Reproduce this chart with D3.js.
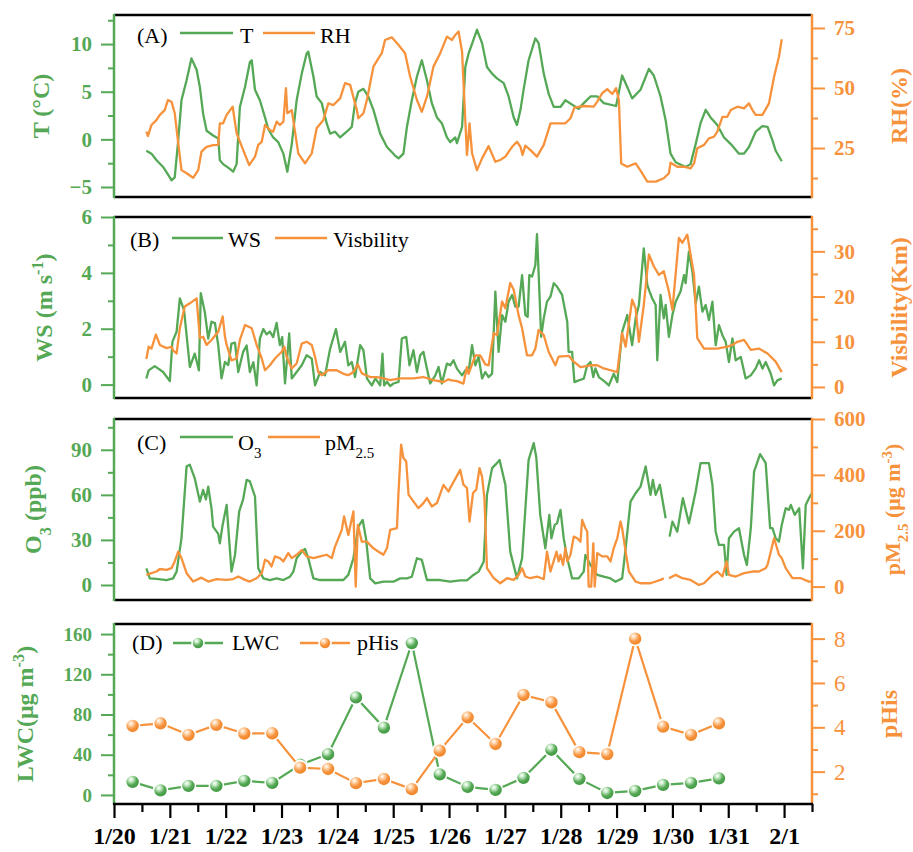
<!DOCTYPE html>
<html>
<head>
<meta charset="utf-8">
<script src="https://cdn.jsdelivr.net/npm/d3@7"></script>
<style>
  body { margin: 0; background: #fff; }
  svg text { font-family: "Liberation Serif", "Times New Roman", serif; }
</style>
</head>
<body>
<script>
// x values are hours after 1/20 00:00
const dateLabels = ["1/20","1/21","1/22","1/23","1/24","1/25","1/26","1/27","1/28","1/29","1/30","1/31","2/1"];

const tempSeries = [[13.9,-1.2],[16.1,-1.5],[18.3,-2.2],[21.1,-2.9],[24.0,-4.0],[24.7,-4.3],[26.1,-4.0],[27.6,-0.1],[29.0,4.1],[31.2,6.2],[33.3,8.5],[35.5,7.3],[36.9,5.5],[38.3,2.7],[39.8,0.9],[42.6,0.4],[44.8,0.1],[45.5,-2.2],[46.9,-2.6],[49.8,-3.1],[51.2,-3.4],[52.7,-2.6],[54.1,3.4],[56.3,5.5],[58.4,8.1],[59.2,8.3],[60.6,5.2],[62.7,4.1],[64.9,2.3],[66.3,1.1],[68.4,0.2],[70.6,-0.3],[72.8,-1.5],[74.5,-3.4],[76.4,-0.5],[78.5,4.1],[80.7,6.9],[82.8,9.0],[83.5,9.2],[85.7,6.6],[87.1,4.5],[89.3,3.8],[91.4,1.7],[92.9,0.6],[95.0,0.8],[97.2,0.2],[100.0,0.8],[102.2,1.3],[103.6,3.8],[105.0,5.0],[107.2,5.3],[109.3,4.5],[111.5,3.1],[114.4,0.6],[117.3,-0.8],[120.8,-1.7],[122.3,-2.0],[124.4,-1.5],[125.9,1.3],[128.0,4.1],[130.2,6.6],[132.3,8.3],[134.5,6.2],[136.6,3.8],[138.8,2.3],[140.9,1.7],[143.1,0.2],[144.5,-0.3],[146.7,0.2],[147.4,-0.4],[149.6,1.3],[151.0,7.6],[152.4,9.0],[156.0,11.5],[158.2,10.1],[160.3,7.6],[162.5,6.9],[164.6,6.4],[167.5,5.9],[169.6,4.5],[171.8,2.3],[173.2,1.5],[174.7,3.1],[176.1,5.3],[178.2,8.3],[181.1,10.6],[182.5,10.1],[184.7,6.9],[186.8,4.8],[189.0,3.4],[191.9,3.4],[194.0,4.1],[199.7,3.2],[201.9,3.8],[204.8,4.5],[207.7,4.5],[210.5,3.8],[215.8,3.5],[218.4,6.7],[220.6,5.5],[222.7,4.3],[226.3,5.2],[229.9,7.4],[232.0,6.7],[234.9,4.5],[237.1,2.0],[239.2,-1.5],[241.4,-2.4],[245.7,-2.9],[247.8,-2.6],[250.0,-0.5],[252.1,1.7],[254.3,3.1],[256.4,2.3],[259.3,1.5],[262.2,0.2],[265.1,-0.5],[268.6,-1.5],[270.8,-1.5],[272.9,-0.8],[275.8,0.8],[278.7,1.4],[280.9,1.3],[283.0,-0.1],[284.4,-1.2],[287.0,-2.3]];

const rhSeries = [[13.9,31.8],[14.6,30],[16.1,34.6],[18.3,36.7],[19.7,38.8],[21.8,40.8],[23.2,45],[24.7,44.3],[26.1,39.5],[27.6,27],[29.0,15.8],[31.2,14.5],[34.0,12.6],[36.2,15.8],[37.6,23.5],[39.8,25.5],[42.6,26.2],[44.8,26.3],[45.5,35.3],[46.9,35.3],[48.4,38.8],[51.0,42.2],[52.7,31.1],[55.5,24.2],[58.1,17.9],[60.6,21.4],[62.0,26.3],[63.5,27.6],[64.9,34.6],[67.0,32.5],[68.4,31.8],[69.9,36],[71.3,34.6],[72.8,36],[73.9,49.9],[74.5,39.5],[76.4,40.8],[79.2,22.8],[82.1,18.6],[85.0,22.8],[87.1,33.2],[90.0,36.7],[92.1,43.6],[94.3,42.9],[97.2,45.7],[99.3,52],[101.5,51.3],[103.6,43.6],[104.4,40.8],[105.0,37.4],[107.2,39.5],[108.7,45],[111.5,58.9],[113.7,62.4],[115.1,64.5],[116.5,70],[119.4,71.1],[122.3,67.9],[125.1,64.5],[127.3,54.7],[130.2,45],[132.3,40.1],[134.5,46.4],[137.3,58.9],[140.2,64.5],[143.1,71.4],[145.3,70],[146.7,72.1],[148.1,73.5],[149.6,65.1],[151.7,22.1],[152.8,35.3],[153.9,22.8],[156.0,15.8],[158.2,20.7],[161.0,25.8],[163.9,19.3],[166.0,20],[168.2,21.4],[171.1,25.5],[173.2,27.6],[174.7,25.5],[175.6,22.1],[176.8,26],[178.9,24.2],[181.8,21.4],[184.7,26.3],[187.6,35.3],[194.0,35.3],[196.2,37.4],[197.9,41.8],[201.9,42.5],[206.2,42.2],[207.7,44.3],[209.8,47.8],[212.0,49.5],[214.2,47.5],[215.8,49.9],[217.0,45],[218.0,18.6],[220.6,17.2],[224.2,18.6],[227.0,14.5],[229.2,11],[232.8,11],[236.3,12.4],[238.5,14.5],[239.2,18.9],[242.1,17.2],[245.0,17.2],[247.8,16.5],[249.3,18.6],[250.7,24.9],[253.6,26.3],[255.7,29],[257.9,29.7],[259.3,31.8],[261.5,38],[263.6,38],[265.1,40.8],[268.0,42.2],[270.8,41.5],[272.9,43.6],[274.4,40.8],[275.8,38.8],[278.7,38.8],[281.5,43.6],[283.7,54.7],[285.8,63],[287.0,70.3]];

const wsSeries = [[13.9,0.22],[14.9,0.51],[17.5,0.66],[21.1,0.45],[24.0,0.13],[25.1,1.53],[26.9,1.89],[28.3,3.09],[30.1,2.67],[32.6,0.63],[34.7,1.11],[36.5,0.51],[37.3,3.27],[39.0,2.61],[40.5,1.65],[41.9,2.25],[43.4,2.2],[44.8,1.41],[46.2,0.22],[47.7,0.81],[49.1,0.7],[50.5,1.47],[52.0,1.5],[53.4,0.45],[55.5,1.17],[57.0,1.4],[58.4,0.45],[59.9,0.8],[61.3,-0.03],[62.7,1.65],[64.2,1.99],[65.6,1.8],[67.0,1.9],[68.4,1.7],[69.9,2.21],[71.3,1.41],[72.3,1.7],[73.5,0.04],[75.3,1.83],[76.4,0.22],[78.5,0.45],[80.7,0.69],[82.8,1.05],[85.0,0.93],[86.4,-0.03],[88.6,0.45],[90.7,0.33],[92.9,1.29],[95.4,1.99],[97.2,1.17],[99.3,1.53],[100.7,0.69],[102.2,0.81],[103.6,0.27],[105.8,1.41],[107.2,1.23],[108.7,0.22],[110.8,-0.03],[112.3,0.22],[114.4,-0.03],[115.4,1.11],[116.1,-0.03],[117.3,0.1],[118.7,-0.05],[120.1,0.04],[122.3,0.1],[123.7,1.65],[125.6,1.71],[127.0,0.69],[128.7,1.23],[130.2,0.45],[131.6,1.05],[133.0,1.17],[134.5,0.57],[135.9,0.04],[138.1,0.33],[139.5,0.63],[140.9,0.04],[143.1,0.75],[144.5,0.69],[145.9,0.87],[147.4,0.57],[149.6,0.33],[151.0,0.51],[152.4,0.45],[153.9,1.41],[155.3,0.69],[156.7,1.0],[158.2,0.22],[159.6,0.45],[161.0,0.27],[162.5,0.39],[163.9,3.33],[165.3,1.17],[166.8,2.49],[168.2,2.25],[169.6,2.97],[171.1,3.21],[172.5,2.79],[173.9,2.79],[175.4,3.92],[176.8,2.49],[177.8,2.43],[178.5,3.92],[179.7,3.87],[181.1,4.28],[181.8,5.39],[182.5,4.0],[183.6,1.71],[184.7,2.37],[186.1,2.97],[187.6,3.15],[189.0,3.63],[190.4,3.51],[192.6,3.21],[194.8,2.25],[195.4,1.17],[196.9,1.17],[197.9,0.09],[199.7,0.15],[201.9,0.21],[203.4,0.69],[204.8,0.81],[206.0,0.27],[206.9,0.58],[208.4,0.27],[211.2,0.09],[212.7,-0.03],[214.8,0.39],[216.3,0.09],[218.4,1.89],[220.6,2.49],[222.7,1.41],[224.2,2.37],[225.6,2.85],[227.7,4.88],[229.2,3.57],[230.2,3.33],[231.3,3.09],[232.8,2.85],[233.5,0.87],[234.9,3.21],[236.3,2.37],[237.1,2.85],[238.5,1.71],[240.0,2.49],[241.4,2.97],[243.5,3.33],[245.0,3.92],[245.7,3.63],[247.1,4.76],[248.6,4.04],[250.0,2.91],[251.4,3.51],[252.9,2.61],[254.3,2.85],[255.7,2.31],[257.2,2.97],[258.6,1.41],[260.0,2.13],[261.5,1.77],[262.9,1.53],[264.3,0.81],[265.8,1.65],[267.2,0.87],[269.4,0.99],[271.5,0.22],[273.7,0.33],[275.8,0.58],[277.3,0.87],[278.7,0.57],[280.1,0.81],[282.3,0.39],[283.7,-0.03],[285.1,0.15],[287.0,0.22]];

const visSeries = [[13.9,6.2],[14.9,8.9],[16.1,8.5],[18.0,11.6],[19.7,9.3],[22.6,8.6],[24.7,8.9],[25.4,8.1],[26.9,7.4],[28.3,13],[30.4,17.8],[32.6,18.5],[35.5,19.6],[36.9,10.8],[38.3,11.1],[39.8,9.3],[41.9,10.4],[44.8,12.2],[46.7,15.6],[47.7,11.1],[48.4,9.3],[50.5,5.9],[52.7,6.3],[54.1,10.4],[56.3,13.7],[59.2,13],[61.3,9.3],[63.5,6.3],[64.9,3.7],[67.0,4.8],[69.2,6.3],[72.1,7.8],[73.2,8.9],[74.2,6.7],[76.4,4.1],[78.5,5.2],[80.7,9.6],[82.8,10],[85.0,9.3],[86.4,6.7],[87.8,3.3],[89.3,2.6],[92.1,3.7],[95.7,3.7],[98.6,2.9],[100.7,2.6],[102.9,3.3],[104.8,5],[106.5,3],[110.1,2.2],[113.0,2.2],[115.8,1.9],[118.7,1.5],[123.0,1.9],[128.7,1.9],[133.0,2.2],[137.3,1.5],[141.6,1.1],[143.8,1.7],[144.5,1.5],[147.4,1.3],[150.2,0.75],[151.7,4.4],[152.4,2.9],[155.3,7],[157.4,7],[159.6,5],[161.0,4.8],[163.2,11.9],[164.6,11.5],[166.8,18.9],[168.2,17.4],[170.3,23],[171.8,21.5],[173.9,15.9],[175.4,13],[177.5,7],[179.7,7],[181.1,8.5],[182.5,12.6],[184.7,11.5],[186.8,7.8],[189.7,4.8],[191.1,6.7],[195.4,6.9],[197.6,5.6],[200.5,4.4],[204.8,4.8],[207.7,4.8],[210.5,4.1],[213.4,3.7],[216.3,3.3],[218.4,11.9],[219.9,8.9],[222.7,19.3],[224.2,17.4],[225.6,10],[227.7,18.1],[229.9,29.3],[232.0,26.7],[234.2,24.8],[236.3,25.6],[238.5,21.1],[240.0,17],[242.8,33],[244.3,31.9],[246.4,33.7],[247.8,29.3],[249.3,24.8],[250.7,10.8],[253.6,8.5],[259.3,8.5],[263.6,8.9],[265.8,9.3],[267.9,10],[270.8,10.4],[273.7,8.2],[277.2,8.5],[280.9,7.4],[284.4,5.6],[287.0,3.3]];

const o3Series = [[13.9,11.1],[15.4,4.4],[18.3,4],[22.6,3.3],[25.4,4.4],[26.9,8.9],[29.0,31],[31.2,79],[32.6,80],[34.7,71],[36.9,55.5],[38.3,63.3],[39.5,57],[40.5,65.5],[41.9,51],[42.6,38.9],[44.8,34],[45.5,27.8],[46.7,40],[48.4,53.3],[50.5,8.9],[52.0,20],[53.8,48.9],[55.5,57],[57.0,70],[58.4,69],[60.6,58.9],[62.0,11.1],[64.2,4.4],[67.0,3.3],[69.9,4.4],[72.8,3.3],[75.6,5.5],[77.1,8.9],[78.5,17.8],[80.7,22.2],[82.1,24],[83.5,17.8],[85.7,4.4],[88.6,3.3],[92.9,3.3],[98.6,3.3],[100.7,6.7],[102.9,17.8],[105.0,38.9],[106.9,43.3],[108.3,31],[110.1,4.4],[112.3,1.1],[115.8,2.2],[120.1,2.2],[123.0,4.4],[125.9,4.4],[128.0,5.5],[130.2,17.8],[132.3,16.7],[134.5,3.3],[140.2,3.3],[144.5,2.2],[148.8,3],[151.7,3],[154.5,6.7],[156.7,8.9],[158.9,15.5],[160.3,60],[162.5,77.8],[164.6,81.1],[165.7,83.3],[168.2,66.7],[170.3,22.2],[173.2,4.4],[175.4,17.8],[178.2,83.3],[180.4,94.4],[181.5,85],[183.2,46.7],[185.4,24.4],[187.1,46.7],[188.0,31],[189.4,40],[190.4,41],[191.9,50],[193.3,31],[194.8,17.8],[196.9,4.4],[199.7,4.4],[201.9,8.9],[202.6,20],[204.8,13.3],[207.7,6.7],[210.5,5.5],[213.4,4.4],[215.5,2.2],[218.4,4.4],[219.9,24.4],[222.0,55.5],[224.2,61.1],[226.3,65.5],[228.5,78.9],[230.6,60],[231.6,70],[232.8,60],[234.6,66.7],[237.1,44.4],[238.0,null],[238.8,32.2],[240.0,42.2],[242.1,35.5],[244.5,57.8],[247.1,41.1],[250.0,62.2],[252.1,81.1],[255.7,81.1],[257.2,66.7],[258.6,35.5],[260.0,26.7],[262.2,26.7],[263.3,6.7],[264.3,31.1],[266.5,35.5],[268.6,37.8],[270.8,20],[272.0,13.3],[273.7,37.8],[275.1,75.5],[277.7,87.1],[280.1,81.1],[282.0,37.8],[283.0,37.8],[284.4,31.1],[285.8,28.9],[287.0,40],[288.7,51.1],[290.1,50],[290.9,53.3],[292.6,46.7],[294.5,51.1],[296.1,11.1],[297.3,53.3],[298.7,57.8],[300,61.1]];

const pmSeries = [[13.9,42],[16.1,48],[18.3,54],[19.7,63],[22.6,60],[24.7,66],[26.1,90],[27.6,125],[29.0,102],[31.2,48],[34.0,18],[37.6,32],[40.5,18],[44.1,27],[48.4,24],[51.2,27],[53.4,36],[56.3,24],[58.4,18],[61.3,30],[63.5,48],[64.9,96],[66.3,90],[67.7,72],[69.2,108],[71.3,102],[72.8,90],[74.9,120],[76.4,102],[78.5,114],[80.7,131],[82.8,108],[85.7,102],[88.6,108],[91.4,114],[93.6,102],[95.0,143],[97.9,203],[98.9,251],[100.7,185],[102.9,269],[103.9,0],[104.8,221],[106.5,161],[108.7,161],[111.5,137],[113.7,125],[115.8,114],[117.3,137],[118.7,203],[121.6,209],[122.3,341],[123.4,508],[124.4,460],[125.6,448],[126.6,329],[128.7,305],[130.8,281],[133.0,299],[134.5,317],[136.6,287],[138.8,299],[141.6,364],[143.8,340],[144.5,353],[148.8,418],[150.2,365],[151.7,353],[152.8,233],[154.3,335],[155.7,347],[157.1,424],[158.2,394],[159.2,317],[160.3,66],[163.2,30],[166.0,12],[168.9,30],[171.8,24],[173.9,42],[175.4,66],[176.8,36],[178.9,30],[181.8,36],[184.7,27],[186.1,125],[187.6,54],[190.2,125],[191.1,90],[191.9,114],[193.0,78],[194.0,138],[194.8,90],[196.2,114],[197.6,179],[199.1,173],[200.5,161],[201.2,239],[202.6,209],[203.4,197],[204.0,0],[205.1,0],[206.0,155],[206.6,0],[207.7,120],[209.8,108],[212.0,108],[213.4,90],[214.8,138],[216.3,173],[217.7,233],[218.4,209],[219.9,125],[221.3,54],[224.2,18],[226.3,12],[230.6,12],[234.9,24],[236.3,30],[237.4,null],[238.5,30],[241.4,42],[244.3,30],[247.8,24],[251.4,6],[253.6,12],[257.2,42],[259.3,54],[261.5,36],[263.3,90],[264.3,42],[267.2,36],[270.8,48],[274.4,54],[277.2,54],[280.1,66],[280.9,78],[283.7,173],[285.8,114],[287.0,102],[288.7,66],[291.6,30],[295.2,30],[298.7,18],[300,18]];

// panel D samples (08:00 and 20:00 each day)
const sampleHours = [8,20,32,44,56,68,80,92,104,116,128,140,152,164,176,188,200,212,224,236,248,260];
const lwcValues = [13,4.5,9,9,14,12,30,40.5,97,67,151,20.5,8,5,17,45,16,2,4,10,12,16.5];
const phValues = [4.06,4.18,3.66,4.11,3.72,3.73,2.18,2.12,1.48,1.67,1.21,2.95,4.45,3.25,5.46,5.13,2.88,2.79,8.0,4.03,3.66,4.18];

const green = "#55a855", orange = "#f7923c";
const serif = "'Liberation Serif','Times New Roman',serif";
const xL = 114, xR = 812;

const svg = d3.select("body").append("svg")
    .attr("width", 913)
    .attr("height", 852);

const defs = svg.append("defs");
[["ballG", "#c9ecc9", "#3d963e"], ["ballO", "#ffd7b0", "#ee8427"]].forEach(([id, mid, dark]) => {
    const grad = defs.append("radialGradient").attr("id", id)
        .attr("cx", "38%").attr("cy", "32%").attr("r", "68%");
    grad.append("stop").attr("offset", "0%").attr("stop-color", "#ffffff");
    grad.append("stop").attr("offset", "22%").attr("stop-color", mid);
    grad.append("stop").attr("offset", "60%").attr("stop-color", id === "ballG" ? green : orange);
    grad.append("stop").attr("offset", "100%").attr("stop-color", dark);
});

const x = d3.scaleLinear().domain([0, 300]).range([xL, xR]);

const panels = [
    { label: "(A)", top: 15, bottom: 197,
      left: { domain: [-6.05, 13.05], major: [-5, 0, 5, 10], minor: [-2.5, 2.5, 7.5, 12.5], size: 21, weight: "bold" },
      right: { domain: [4.6, 80.4], major: [25, 50, 75], minor: [12.5, 37.5, 62.5], size: 21, weight: "bold" },
      lTitle: { x: 41, parts: [["T (°C)"]] },
      rTitle: { x: 899, parts: [["RH(%)"]] },
      legend: { lx: 137, base: 28, ly: 18, items: [[180, 233, 240, [["T"]]], [263, 315, 320, [["RH"]]]] },
      series: [tempSeries, rhSeries] },
    { label: "(B)", top: 217, bottom: 398,
      left: { domain: [-0.48, 6], major: [0, 2, 4, 6], minor: [1, 3, 5], size: 21, weight: "bold" },
      right: { domain: [-2.44, 37.6], major: [0, 10, 20, 30], minor: [5, 15, 25, 35], size: 21, weight: "bold" },
      lTitle: { x: 44, parts: [["WS (m s"], ["-1", "super"], [")"]] },
      rTitle: { x: 899, parts: [["Visbility(Km)"]] },
      legend: { lx: 130, base: 30, ly: 21, items: [[172, 223, 228, [["WS"]]], [275, 327, 333, [["Visbility"]]]] },
      series: [wsSeries, visSeries] },
    { label: "(C)", top: 419, bottom: 600,
      left: { domain: [-10, 110.5], major: [0, 30, 60, 90], minor: [15, 45, 75, 105], size: 21, weight: "bold" },
      right: { domain: [-48, 600], major: [0, 200, 400, 600], minor: [100, 300, 500], size: 21, weight: "bold" },
      lTitle: { x: 33, parts: [["O"], ["3", "sub"], [" (ppb)"]] },
      rTitle: { x: 892, size: 22, parts: [["pM"], ["2.5", "sub"], [" (μg m"], ["-3", "super"], [")"]] },
      legend: { lx: 137, base: 31, ly: 18, items: [[180, 233, 238, [["O"], ["3", "sub"]]], [268, 320, 325, [["pM"], ["2.5", "sub"]]]] },
      series: [o3Series, pmSeries] },
    { label: "(D)", top: 624, bottom: 804,
      left: { domain: [-9, 170], major: [0, 40, 80, 120, 160], minor: [20, 60, 100, 140], size: 19, weight: "bold" },
      right: { domain: [0.54, 8.66], major: [2, 4, 6, 8], minor: [1, 3, 5, 7], size: 23, weight: "normal" },
      lTitle: { x: 25, parts: [["LWC(μg m"], ["-3", "super"], [")"]] },
      rTitle: { x: 889, parts: [["pHis"]] },
      legend: { lx: 132, base: 26, ly: 19, items: [[173, 223, 232, [["LWC"]]], [300, 350, 357, [["pHis"]]]] },
      series: null }
];

function addParts(text, parts) {
    parts.forEach(([s, shift]) => {
        const t = text.append("tspan").text(s);
        if (shift) t.attr("baseline-shift", shift).attr("font-size", "68%");
    });
}

function yAxis(g, scale, side, cfg, color) {
    const make = side === "left" ? d3.axisLeft : d3.axisRight;
    const xPos = side === "left" ? xL : xR;
    g.append("g")
        .attr("transform", `translate(${xPos},0)`)
        .call(make(scale).tickValues(cfg.minor).tickSize(6).tickFormat(""))
        .call(a => a.select(".domain").remove())
        .call(a => a.selectAll("line").attr("stroke", color).attr("stroke-width", 2));
    g.append("g")
        .attr("transform", `translate(${xPos},0)`)
        .call(make(scale).tickValues(cfg.major).tickSize(13).tickPadding(9).tickFormat(d3.format("d")))
        .call(a => a.select(".domain").remove())
        .call(a => a.selectAll("line").attr("stroke", color).attr("stroke-width", 2))
        .call(a => a.selectAll("text")
            .attr("fill", color)
            .attr("font-family", serif)
            .attr("font-size", cfg.size)
            .attr("font-weight", cfg.weight));
}

panels.forEach((p, pi) => {
    const g = svg.append("g");
    const yL = d3.scaleLinear().domain(p.left.domain).range([p.bottom, p.top]);
    const yR = d3.scaleLinear().domain(p.right.domain).range([p.bottom, p.top]);

    // series
    if (p.series) {
        [[p.series[0], yL, green], [p.series[1], yR, orange]].forEach(([data, y, color]) => {
            g.append("path")
                .datum(data)
                .attr("fill", "none")
                .attr("stroke", color)
                .attr("stroke-width", 2.3)
                .attr("stroke-linejoin", "round")
                .attr("d", d3.line()
                    .defined(d => d[1] !== null)
                    .x(d => x(d[0]))
                    .y(d => y(d[1])));
        });
    } else {
        [[lwcValues, yL, green, "ballG"], [phValues, yR, orange, "ballO"]].forEach(([vals, y, color, fill]) => {
            const pts = sampleHours.map((h, i) => [h, vals[i]]);
            g.append("path")
                .datum(pts)
                .attr("fill", "none")
                .attr("stroke", color)
                .attr("stroke-width", 2.2)
                .attr("d", d3.line().x(d => x(d[0])).y(d => y(d[1])));
            g.selectAll(null)
                .data(pts)
                .join("circle")
                .attr("cx", d => x(d[0]))
                .attr("cy", d => y(d[1]))
                .attr("r", 7)
                .attr("fill", `url(#${fill})`)
                .attr("stroke", "#fff")
                .attr("stroke-width", 1.6);
        });
    }

    // frame
    g.append("line").attr("x1", xL).attr("x2", xR).attr("y1", p.top).attr("y2", p.top)
        .attr("stroke", "#000").attr("stroke-width", 2.5);
    if (pi < 3) {
        g.append("line").attr("x1", xL).attr("x2", xR).attr("y1", p.bottom).attr("y2", p.bottom)
            .attr("stroke", "#000").attr("stroke-width", 2.5);
    }
    g.append("line").attr("x1", xL).attr("x2", xL).attr("y1", p.top - 1).attr("y2", p.bottom + 1)
        .attr("stroke", green).attr("stroke-width", 2.5);
    g.append("line").attr("x1", xR).attr("x2", xR).attr("y1", p.top - 1).attr("y2", p.bottom + 1)
        .attr("stroke", orange).attr("stroke-width", 2.5);

    yAxis(g, yL, "left", p.left, green);
    yAxis(g, yR, "right", p.right, orange);

    // axis titles
    const mid = (p.top + p.bottom) / 2;
    const lt = g.append("text")
        .attr("transform", `translate(${p.lTitle.x},${mid}) rotate(-90)`)
        .attr("text-anchor", "middle").attr("dy", "0.35em")
        .attr("fill", green).attr("font-size", 24).attr("font-weight", "bold");
    addParts(lt, p.lTitle.parts);
    const rt = g.append("text")
        .attr("transform", `translate(${p.rTitle.x},${mid}) rotate(-90)`)
        .attr("text-anchor", "middle").attr("dy", "0.35em")
        .attr("fill", orange).attr("font-size", p.rTitle.size || 24).attr("font-weight", "bold");
    addParts(rt, p.rTitle.parts);

    // legend
    const lg = p.legend;
    g.append("text").attr("x", lg.lx).attr("y", p.top + lg.base)
        .attr("font-size", 22).attr("fill", "#000").text(p.label);
    lg.items.forEach(([x1, x2, tx, parts], i) => {
        const color = i === 0 ? green : orange;
        const ly = p.top + lg.ly;
        g.append("line").attr("x1", x1).attr("x2", x2).attr("y1", ly).attr("y2", ly)
            .attr("stroke", color).attr("stroke-width", 2.3);
        if (!p.series) {
            g.append("circle").attr("cx", (x1 + x2) / 2).attr("cy", ly).attr("r", 6)
                .attr("fill", `url(#${i === 0 ? "ballG" : "ballO"})`)
                .attr("stroke", "#fff").attr("stroke-width", 1.6);
        }
        const t = g.append("text").attr("x", tx).attr("y", p.top + lg.base)
            .attr("font-size", 22).attr("fill", "#000");
        addParts(t, parts);
    });
});

// bottom time axis
const xAxisG = svg.append("g").attr("transform", "translate(0,804)");
xAxisG.append("g")
    .call(d3.axisBottom(x).tickValues(dateLabels.map((_, i) => 12 + i * 24)).tickSize(8).tickFormat(""))
    .call(a => a.select(".domain").remove())
    .call(a => a.selectAll("line").attr("stroke", "#000").attr("stroke-width", 2.2));
xAxisG.append("g")
    .call(d3.axisBottom(x).tickValues(dateLabels.map((_, i) => i * 24)).tickSize(14).tickPadding(9)
        .tickFormat((d, i) => dateLabels[i]))
    .call(a => a.select(".domain").remove())
    .call(a => a.selectAll("line").attr("stroke", "#000").attr("stroke-width", 2.2))
    .call(a => a.selectAll("text")
        .attr("fill", "#000")
        .attr("font-family", serif)
        .attr("font-size", 24)
        .attr("font-weight", "bold"));
xAxisG.append("line").attr("x1", xL - 1).attr("x2", xR + 1).attr("y1", 0).attr("y2", 0)
    .attr("stroke", "#000").attr("stroke-width", 2.5);
</script>
</body>
</html>
